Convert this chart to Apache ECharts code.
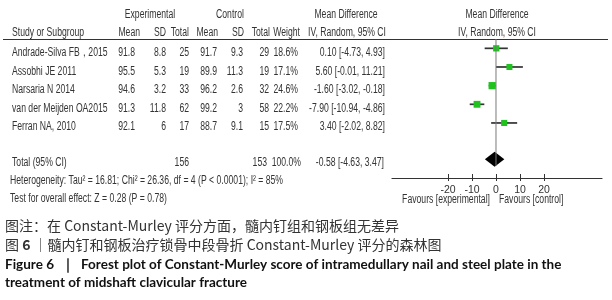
<!DOCTYPE html>
<html>
<head>
<meta charset="utf-8">
<script src="https://cdn.jsdelivr.net/npm/echarts@6/dist/echarts.min.js"></script>
<style>
  html, body { margin: 0; padding: 0; background: #fff; }
  #container { width: 612px; height: 300px; }
</style>
</head>
<body>
<div id="container"></div>
<script>
// 研究数据
var studies = ['Andrade-Silva FB，2015', 'Assobhi JE 2011', 'Narsaria N 2014', 'van der Meijden OA2015', 'Ferran NA, 2010'];
var expMean = [91.8, 95.5, 94.6, 91.3, 92.1];
var expSD = [8.8, 5.3, 3.2, 11.8, 6];
var expTotal = [25, 19, 33, 62, 17];
var ctlMean = [91.7, 89.9, 96.2, 99.2, 88.7];
var ctlSD = [9.3, 11.3, 2.6, 3, 9.1];
var ctlTotal = [29, 19, 32, 58, 15];
var weights = [18.6, 17.1, 24.6, 22.2, 17.5];
var mdEst = [0.10, 5.60, -1.60, -7.90, 3.40];
var mdLow = [-4.73, -0.01, -3.02, -10.94, -2.02];
var mdHigh = [4.93, 11.21, -0.18, -4.86, 8.82];
// 合并结果
var totalEst = -0.58, totalLow = -4.63, totalHigh = 3.47;
var totalExp = 156, totalCtl = 153;
var xTicks = [-20, -10, 0, 10, 20];

var sans = '"Liberation Sans", Arial, sans-serif';
var textColor = '#333';
// 模拟窄体字
var squeeze = 0.72;

function txt(x, y, s, align) {
	return {
		type: 'text', x: x, y: y, scaleX: squeeze, silent: true,
		style: { text: s, fill: textColor, fontSize: 12, fontFamily: sans, align: align || 'left', verticalAlign: 'middle' }
	};
}
function mdText(e, l, h) {
	return e.toFixed(2) + ' [' + l.toFixed(2) + ', ' + h.toFixed(2) + ']';
}

var graphics = [];
// 表头
graphics.push(txt(150, 15, 'Experimental', 'center'));
graphics.push(txt(230, 15, 'Control', 'center'));
graphics.push(txt(346, 15, 'Mean Difference', 'center'));
graphics.push(txt(497, 15, 'Mean Difference', 'center'));
graphics.push(txt(12, 33, 'Study or Subgroup'));
graphics.push(txt(140, 33, 'Mean', 'right'));
graphics.push(txt(166, 33, 'SD', 'right'));
graphics.push(txt(189, 33, 'Total', 'right'));
graphics.push(txt(218, 33, 'Mean', 'right'));
graphics.push(txt(244, 33, 'SD', 'right'));
graphics.push(txt(270, 33, 'Total', 'right'));
graphics.push(txt(300, 33, 'Weight', 'right'));
graphics.push(txt(347, 33, 'IV, Random, 95% CI', 'center'));
graphics.push(txt(497, 33, 'IV, Random, 95% CI', 'center'));
graphics.push({
	type: 'line', silent: true,
	shape: { x1: 3, y1: 39.5, x2: 608, y2: 39.5 },
	style: { stroke: '#333', lineWidth: 1.2 }
});
// 每个研究一行
for (var i = 0; i < studies.length; i++) {
	var y = 52.7 + 18.5 * i;
	graphics.push(txt(12, y, studies[i]));
	graphics.push(txt(135, y, String(expMean[i]), 'right'));
	graphics.push(txt(166, y, String(expSD[i]), 'right'));
	graphics.push(txt(189, y, String(expTotal[i]), 'right'));
	graphics.push(txt(217, y, String(ctlMean[i]), 'right'));
	graphics.push(txt(243, y, String(ctlSD[i]), 'right'));
	graphics.push(txt(269, y, String(ctlTotal[i]), 'right'));
	graphics.push(txt(298, y, weights[i].toFixed(1) + '%', 'right'));
	graphics.push(txt(385, y, mdText(mdEst[i], mdLow[i], mdHigh[i]), 'right'));
}
// 合并行
graphics.push(txt(12, 162.5, 'Total (95% CI)'));
graphics.push(txt(189, 162.5, String(totalExp), 'right'));
graphics.push(txt(267, 162.5, String(totalCtl), 'right'));
graphics.push(txt(301, 162.5, '100.0%', 'right'));
graphics.push(txt(384, 162.5, mdText(totalEst, totalLow, totalHigh), 'right'));
graphics.push(txt(10, 181, 'Heterogeneity: Tau² = 16.81; Chi² = 26.36, df = 4 (P < 0.0001); I² = 85%'));
graphics.push(txt(10, 199, 'Test for overall effect: Z = 0.28 (P = 0.78)'));
graphics.push(txt(490, 200, 'Favours [experimental]', 'right'));
graphics.push(txt(499, 200, 'Favours [control]', 'left'));
// 图注
var cjk = '"Noto Sans CJK SC", sans-serif';
graphics.push({
	type: 'text', x: 5, y: 226, silent: true,
	style: { text: '图注：在 Constant-Murley 评分方面，髓内钉组和钢板组无差异', fill: '#333', fontSize: 14, fontFamily: cjk, verticalAlign: 'middle' }
});
graphics.push({
	type: 'text', x: 5, y: 245, silent: true,
	style: {
		text: '{a|图 }{b|6}{a| ｜髓内钉和钢板治疗锁骨中段骨折 Constant-Murley 评分的森林图}',
		verticalAlign: 'middle',
		rich: {
			a: { fill: '#333', fontSize: 14, fontFamily: cjk },
			b: { fill: '#333', fontSize: 14, fontFamily: cjk, fontWeight: 'bold' }
		}
	}
});
graphics.push({
	type: 'text', x: 5, y: 265, silent: true,
	style: { text: 'Figure 6  ｜  Forest plot of Constant-Murley score of intramedullary nail and steel plate in the', fill: '#111', fontSize: 13.5, fontWeight: 'bold', fontFamily: 'Lato, "Open Sans", sans-serif', verticalAlign: 'middle' }
});
graphics.push({
	type: 'text', x: 5, y: 283, silent: true,
	style: { text: 'treatment of midshaft clavicular fracture', fill: '#111', fontSize: 13.5, fontWeight: 'bold', fontFamily: 'Lato, "Open Sans", sans-serif', verticalAlign: 'middle' }
});

var studyData = [];
for (var j = 0; j < studies.length; j++) {
	studyData.push([mdEst[j], j, mdLow[j], mdHigh[j], weights[j]]);
}
var totalRow = 5.95;

var myChart = echarts.init(document.getElementById('container'), null, { renderer: 'canvas' });
var option = {
	animation: false,
	backgroundColor: '#fff',
	grid: { left: 392, right: 10, top: 39, bottom: 122 },
	xAxis: [{
		type: 'value', min: -43.33, max: 44.17,
		splitLine: { show: false },
		axisLine: { onZero: false, lineStyle: { color: '#333', width: 1.2 } },
		axisTick: { inside: true, length: 4, customValues: xTicks, lineStyle: { color: '#333' } },
		axisLabel: { customValues: xTicks, margin: 7, color: textColor, fontSize: 10.5, fontFamily: sans }
	}, {
		type: 'value', min: -43.33, max: 44.17, position: 'bottom',
		splitLine: { show: false },
		axisLine: { show: false, onZero: false },
		axisTick: { length: 3, customValues: xTicks, lineStyle: { color: '#333' } },
		axisLabel: { show: false }
	}],
	yAxis: { type: 'value', inverse: true, min: -0.5, max: 6.95, show: false },
	series: [{
		type: 'line', silent: true, symbol: 'none',
		data: [[0, -0.5], [0, 6.3]],
		lineStyle: { color: '#7a7a7a', width: 1 }
	}, {
		type: 'custom', silent: true,
		data: studyData,
		renderItem: function(params, api) {
			var c = api.coord([api.value(0), api.value(1)]);
			var l = api.coord([api.value(2), api.value(1)]);
			var h = api.coord([api.value(3), api.value(1)]);
			var s = 6.5 * Math.sqrt(api.value(4) / 20);
			return {
				type: 'group',
				children: [{
					type: 'line',
					shape: { x1: l[0], y1: l[1], x2: h[0], y2: h[1] },
					style: { stroke: '#333', lineWidth: 1.7 }
				}, {
					type: 'rect',
					shape: { x: c[0] - s / 2, y: c[1] - s / 2, width: s, height: s },
					style: { fill: '#1fc21f' }
				}]
			};
		}
	}, {
		type: 'custom', silent: true,
		data: [[totalEst, totalRow, totalLow, totalHigh]],
		renderItem: function(params, api) {
			var c = api.coord([api.value(0), api.value(1)]);
			var l = api.coord([api.value(2), api.value(1)]);
			var h = api.coord([api.value(3), api.value(1)]);
			return {
				type: 'polygon',
				shape: { points: [[l[0], c[1]], [c[0], c[1] - 7.5], [h[0], c[1]], [c[0], c[1] + 7.5]] },
				style: { fill: '#000' }
			};
		}
	}],
	graphic: graphics
};
myChart.setOption(option);
</script>
</body>
</html>
